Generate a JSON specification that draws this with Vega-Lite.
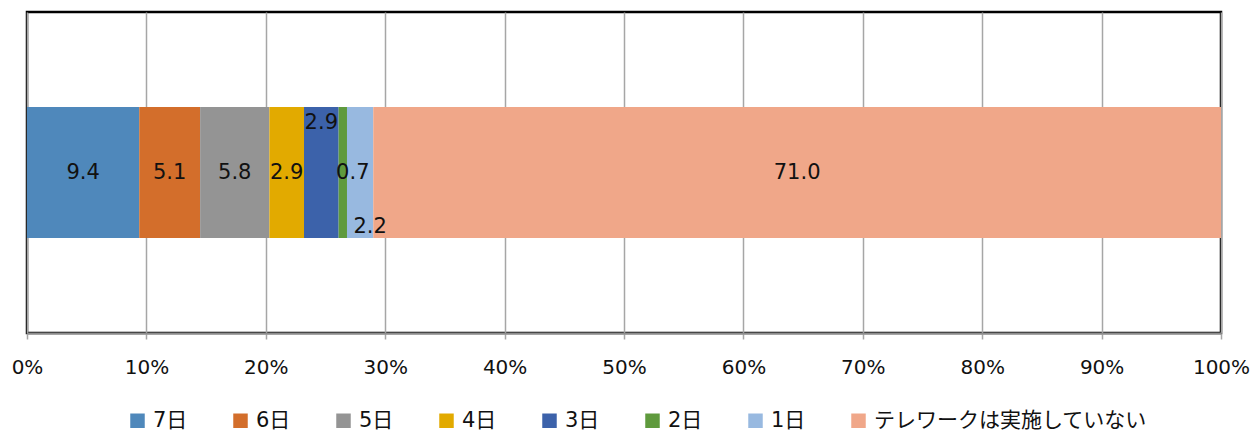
{
  "$schema": "https://vega.github.io/schema/vega-lite/v6.json",
  "width": 1194,
  "height": 321,
  "autosize": {"type": "none"},
  "padding": {"left": 27, "top": 12, "right": 32, "bottom": 101},
  "background": "white",
  "config": {
    "font": "DejaVu Sans, Noto Sans CJK JP",
    "view": {"stroke": "#000000", "strokeWidth": 2.5}
  },
  "data": {
    "values": [
      {"cat": "7日", "value": 9.4, "idx": 1},
      {"cat": "6日", "value": 5.1, "idx": 2},
      {"cat": "5日", "value": 5.8, "idx": 3},
      {"cat": "4日", "value": 2.9, "idx": 4},
      {"cat": "3日", "value": 2.9, "idx": 5},
      {"cat": "2日", "value": 0.7, "idx": 6},
      {"cat": "1日", "value": 2.2, "idx": 7},
      {"cat": "テレワークは実施していない", "value": 71.0, "idx": 8}
    ]
  },
  "transform": [
    {"stack": "value", "groupby": [], "sort": [{"field": "idx", "order": "ascending"}], "as": ["x0", "x1"]},
    {"calculate": "(datum.x0 + datum.x1) / 2", "as": "mid"},
    {"calculate": "format(datum.value, '.1f')", "as": "lab"}
  ],
  "encoding": {
    "y": {"datum": "all", "type": "nominal", "scale": {"paddingInner": 0, "paddingOuter": 0.725}, "axis": null}
  },
  "layer": [
    {
      "mark": {"type": "bar"},
      "encoding": {
        "x": {
          "field": "x0", "type": "quantitative",
          "scale": {"domain": [0, 100], "nice": false, "zero": true},
          "axis": {
            "values": [0, 10, 20, 30, 40, 50, 60, 70, 80, 90, 100],
            "labelExpr": "datum.value + '%'",
            "title": null,
            "grid": true,
            "gridColor": "#A6A6A6",
            "gridWidth": 1.5,
            "domainColor": "#8C8C8C",
            "domainWidth": 2,
            "tickColor": "#A6A6A6",
            "tickSize": 6,
            "tickWidth": 1.5,
            "labelFontSize": 20,
            "labelColor": "#111111",
            "labelPadding": 18,
            "labelFlush": false
          }
        },
        "x2": {"field": "x1"},
        "color": {
          "field": "cat", "type": "nominal",
          "scale": {
            "domain": ["7日", "6日", "5日", "4日", "3日", "2日", "1日", "テレワークは実施していない"],
            "range": ["#4F88BB", "#D36E2B", "#949494", "#E2AA00", "#3C62AA", "#5F9A3D", "#98B9E0", "#F0A789"]
          },
          "legend": {
            "orient": "none",
            "legendX": 100,
            "legendY": 398,
            "direction": "horizontal",
            "title": null,
            "symbolType": "square",
            "symbolSize": 210,
            "symbolStrokeWidth": 0,
            "labelFontSize": 21,
            "labelColor": "#111111",
            "labelOffset": 5,
            "columnPadding": 42,
            "labelLimit": 400
          }
        }
      }
    },
    {
      "transform": [{"filter": "indexof(['7日','6日','5日','4日','テレワークは実施していない'], datum.cat) >= 0"}],
      "mark": {"type": "text", "fontSize": 21, "color": "#111111"},
      "encoding": {
        "x": {"field": "mid", "type": "quantitative"},
        "text": {"field": "lab"}
      }
    },
    {
      "transform": [{"filter": "datum.cat == '2日'"}],
      "mark": {"type": "text", "fontSize": 21, "color": "#111111", "dx": 10},
      "encoding": {
        "x": {"field": "mid", "type": "quantitative"},
        "text": {"field": "lab"}
      }
    },
    {
      "transform": [{"filter": "datum.cat == '3日'"}],
      "mark": {"type": "text", "fontSize": 21, "color": "#111111", "dy": -50},
      "encoding": {
        "x": {"field": "mid", "type": "quantitative"},
        "text": {"field": "lab"}
      }
    },
    {
      "transform": [{"filter": "datum.cat == '1日'"}],
      "mark": {"type": "text", "fontSize": 21, "color": "#111111", "dx": 10, "dy": 54},
      "encoding": {
        "x": {"field": "mid", "type": "quantitative"},
        "text": {"field": "lab"}
      }
    }
  ]
}
